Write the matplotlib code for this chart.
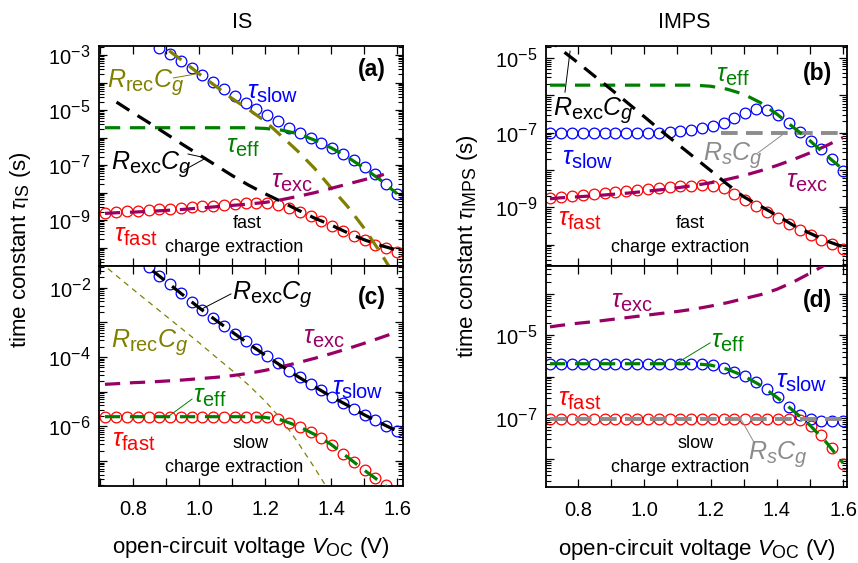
import matplotlib
matplotlib.use("Agg")
import matplotlib.pyplot as plt
import matplotlib._mathtext as mathtext_internals
from matplotlib.ticker import FixedLocator, FuncFormatter, LogLocator, NullFormatter
import numpy as np

plt.rcParams['font.family'] = ['Liberation Sans', 'DejaVu Sans']
plt.rcParams['mathtext.fontset'] = 'custom'
plt.rcParams['mathtext.rm'] = 'Liberation Sans'
plt.rcParams['mathtext.it'] = 'Liberation Sans:italic'
plt.rcParams['mathtext.bf'] = 'Liberation Sans:bold'
plt.rcParams['lines.scale_dashes'] = False
# the original uses larger sub/superscripts than matplotlib's default 0.7
mathtext_internals.SHRINK_FACTOR = 0.8

nan = np.nan

# --- DATA ---
# open-circuit voltage of the simulated points (V)
voc = [0.716, 0.749, 0.781, 0.814, 0.847, 0.880, 0.912, 0.945, 0.978, 1.010,
       1.043, 1.076, 1.109, 1.141, 1.174, 1.207, 1.240, 1.272, 1.305, 1.338,
       1.371, 1.403, 1.436, 1.469, 1.502, 1.534, 1.567, 1.600]
# voltage grid of the model curves (V)
v_model = [0.715, 0.75, 0.80, 0.85, 0.90, 0.95, 1.00, 1.05, 1.10, 1.15,
           1.20, 1.25, 1.30, 1.35, 1.40, 1.45, 1.50, 1.55, 1.60]
v_full = [0.70, 0.75, 0.80, 0.85, 0.90, 0.95, 1.00, 1.05, 1.10, 1.15,
          1.20, 1.25, 1.30, 1.35, 1.40, 1.45, 1.50, 1.55, 1.60]

# (a) IS, fast charge extraction
a_fast = [1.85e-9, 1.95e-9, 2.07e-9, 2.18e-9, 2.31e-9, 2.44e-9, 2.58e-9, 2.73e-9, 2.89e-9, 3.14e-9,
          3.32e-9, 3.61e-9, 3.82e-9, 4.04e-9, 4.15e-9, 4.04e-9, 3.51e-9, 2.73e-9, 2.01e-9, 1.40e-9,
          9.2e-10, 5.9e-10, 3.9e-10, 2.6e-10, 1.82e-10, 1.27e-10, 9.3e-11, 7.0e-11]
a_slow = [nan, nan, nan, nan, 3.51e-3, 1.80e-3, 1.06e-3, 6.05e-4, 3.46e-4, 1.93e-4,
          1.07e-4, 5.97e-5, 3.23e-5, 1.80e-5, 1.06e-5, 6.4e-6, 3.87e-6, 2.28e-6, 1.46e-6, 9.9e-7,
          6.5e-7, 4.15e-7, 2.58e-7, 1.52e-7, 8.7e-8, 4.58e-8, 2.09e-8, 9.1e-9]
a_eff = [2.28e-6, 2.28e-6, 2.28e-6, 2.28e-6, 2.28e-6, 2.28e-6, 2.28e-6, 2.28e-6, 2.28e-6, 2.28e-6,
         2.15e-6, 1.87e-6, 1.38e-6, 8.1e-7, 4.27e-7, 1.95e-7, 7.8e-8, 2.85e-8, 9.1e-9]
v_exc_a = [0.715, 0.75, 0.80, 0.85, 0.90, 0.95, 1.00, 1.05, 1.10, 1.15,
           1.20, 1.25, 1.30, 1.35, 1.40, 1.45, 1.50, 1.55, 1.56]
a_exc = [1.75e-9, 1.85e-9, 1.95e-9, 2.07e-9, 2.25e-9, 2.44e-9, 2.73e-9, 3.05e-9, 3.41e-9, 3.82e-9,
         4.39e-9, 5.5e-9, 7.3e-9, 9.9e-9, 1.42e-8, 2.04e-8, 2.93e-8, 4.2e-8, 4.58e-8]
a_rexc = [1.95e-5, 8.0e-6, 3.37e-6, 1.38e-6, 5.65e-7, 2.38e-7, 1.0e-7, 4.2e-8, 1.87e-8,
          9.1e-9, 4.65e-9, 2.31e-9, 1.18e-9, 6.6e-10, 3.46e-10, 1.93e-10, 1.20e-10, 8.1e-11]
a_rrec = [5.2e-3, 1.75e-3, 6.2e-4, 2.09e-4, 7.5e-5, 2.65e-5, 1.06e-5, 3.98e-6,
          1.13e-6, 3.14e-7, 7.6e-8, 1.50e-8, 3.14e-9, 5.1e-10, 6.5e-11, 6.9e-12]

# (c) IS, slow charge extraction
c_fast = [1.90e-6, 1.90e-6, 1.90e-6, 1.90e-6, 1.90e-6, 1.90e-6, 1.90e-6, 1.90e-6, 1.90e-6, 1.90e-6,
          1.90e-6, 1.90e-6, 1.90e-6, 1.90e-6, 1.90e-6, 1.82e-6, 1.59e-6, 1.28e-6, 9.8e-7, 7.0e-7,
          4.71e-7, 2.83e-7, 1.63e-7, 9.4e-8, 5.4e-8, 3.24e-8, 2.03e-8, 1.22e-8]
c_slow = [nan, nan, nan, nan, 3.82e-2, 2.17e-2, 1.25e-2, 6.87e-3, 3.95e-3, 2.27e-3,
          1.33e-3, 7.8e-4, 4.6e-4, 2.83e-4, 1.66e-4, 1.04e-4, 6.6e-5, 4.04e-5, 2.59e-5, 1.66e-5,
          1.09e-5, 7.2e-6, 4.82e-6, 3.24e-6, 2.17e-6, 1.49e-6, 1.04e-6, 7.3e-7]
c_eff = [1.90e-6, 1.90e-6, 1.90e-6, 1.90e-6, 1.90e-6, 1.90e-6, 1.90e-6, 1.90e-6, 1.90e-6, 1.90e-6,
         1.82e-6, 1.52e-6, 1.02e-6, 5.87e-7, 3.03e-7, 1.30e-7, 5.5e-8, 2.48e-8, 1.09e-8]
c_exc = [1.63e-5, 1.70e-5, 1.82e-5, 1.90e-5, 2.03e-5, 2.17e-5, 2.37e-5, 2.59e-5, 2.90e-5, 3.38e-5,
         4.12e-5, 5.26e-5, 6.87e-5, 9.16e-5, 1.25e-4, 1.74e-4, 2.48e-4, 3.61e-4, 5.26e-4]
c_rexc = [8.7e-2, 3.61e-2, 1.52e-2, 6.3e-3, 2.65e-3, 1.17e-3, 5.3e-4, 2.43e-4, 1.14e-4,
          5.5e-5, 2.71e-5, 1.39e-5, 7.3e-6, 4.04e-6, 2.17e-6, 1.25e-6, 7.3e-7]
c_rrec = [5.5e-2, 2.22e-2, 8.95e-3, 3.69e-3, 1.52e-3, 6.3e-4, 2.59e-4, 1.02e-4,
          4.12e-5, 1.56e-5, 5.4e-6, 1.59e-6, 3.38e-7, 6.4e-8, 1.09e-8]

# (b) IMPS, fast charge extraction
b_fast = [1.77e-9, 1.89e-9, 2.01e-9, 2.09e-9, 2.22e-9, 2.36e-9, 2.51e-9, 2.67e-9, 2.84e-9, 3.02e-9,
          3.21e-9, 3.42e-9, 3.63e-9, 3.79e-9, 3.86e-9, 3.79e-9, 3.28e-9, 2.31e-9, 1.60e-9, 1.09e-9,
          7.5e-10, 5.1e-10, 3.52e-10, 2.49e-10, 1.79e-10, 1.35e-10, 1.03e-10, 7.9e-11]
b_slow = [9.8e-8, 9.8e-8, 9.8e-8, 9.8e-8, 9.8e-8, 9.8e-8, 9.8e-8, 9.8e-8, 9.8e-8, 9.8e-8,
          1.0e-7, 1.02e-7, 1.09e-7, 1.18e-7, 1.33e-7, 1.54e-7, 1.85e-7, 2.46e-7, 3.28e-7, 4.28e-7,
          4.10e-7, 3.02e-7, 1.81e-7, 1.02e-7, 6.1e-8, 3.67e-8, 1.99e-8, 9.7e-9]
b_eff = [1.87e-6, 1.87e-6, 1.87e-6, 1.87e-6, 1.87e-6, 1.87e-6, 1.87e-6, 1.87e-6, 1.87e-6, 1.87e-6,
         1.75e-6, 1.46e-6, 1.07e-6, 6.4e-7, 3.15e-7, 1.39e-7, 6.1e-8, 2.44e-8, 1.03e-8]
b_exc = [1.70e-9, 1.81e-9, 1.92e-9, 2.05e-9, 2.22e-9, 2.41e-9, 2.67e-9, 2.96e-9, 3.34e-9, 3.86e-9,
         4.55e-9, 5.6e-9, 7.1e-9, 9.5e-9, 1.32e-8, 1.91e-8, 2.87e-8, 4.50e-8, 7.4e-8]
b_rexc = [3.71e-5, 1.63e-5, 7.4e-6, 3.24e-6, 1.43e-6, 6.2e-7, 2.67e-7, 1.13e-7, 4.99e-8, 2.20e-8,
          9.7e-9, 4.19e-9, 1.92e-9, 1.09e-9, 6.1e-10, 3.31e-10, 2.03e-10, 1.26e-10, 8.8e-11]
v_rs_b = [1.23, 1.61]
b_rs = [9.6e-8, 9.6e-8]

# (d) IMPS, slow charge extraction
d_fast = [9.1e-8, 9.1e-8, 9.1e-8, 9.1e-8, 9.1e-8, 9.1e-8, 9.1e-8, 9.1e-8, 9.1e-8, 9.1e-8,
          9.1e-8, 9.1e-8, 9.1e-8, 9.1e-8, 9.1e-8, 9.1e-8, 9.1e-8, 9.1e-8, 9.1e-8, 9.1e-8,
          9.1e-8, 9.1e-8, 9.1e-8, 8.77e-8, 6.3e-8, 3.78e-8, 1.89e-8, 7.7e-9]
d_slow = [2.04e-6, 2.04e-6, 2.04e-6, 2.04e-6, 2.04e-6, 2.04e-6, 2.04e-6, 2.04e-6, 2.04e-6, 2.04e-6,
          2.04e-6, 2.04e-6, 2.04e-6, 2.04e-6, 2.00e-6, 1.85e-6, 1.60e-6, 1.30e-6, 1.02e-6, 7.55e-7,
          5.1e-7, 3.13e-7, 1.85e-7, 1.16e-7, 9.1e-8, 8.45e-8, 8.45e-8, 8.45e-8]
d_eff = [2.04e-6, 2.04e-6, 2.04e-6, 2.04e-6, 2.04e-6, 2.04e-6, 2.04e-6, 2.04e-6, 2.04e-6, 2.04e-6,
         1.89e-6, 1.51e-6, 1.04e-6, 6.15e-7, 3.13e-7, 1.48e-7, 6.6e-8, 2.50e-8, 7.98e-9]
d_exc = [1.60e-5, 1.75e-5, 1.96e-5, 2.15e-5, 2.41e-5, 2.70e-5, 3.02e-5, 3.38e-5, 3.78e-5, 4.31e-5,
         5.1e-5, 6.15e-5, 7.7e-5, 9.6e-5, 1.30e-4, 1.96e-4, 3.19e-4, 5.3e-4, 9.3e-4]
v_rs_d = [0.715, 1.60]
d_rs = [9.1e-8, 9.1e-8]

# --- COLOURS ---
RED = '#ff0000'
BLUE = '#0000ff'
GREEN = '#008000'
PURPLE = '#990066'
OLIVE = '#808000'
GRAY = '#8c8c8c'

W, H = 858, 563
fig = plt.figure(figsize=(W / 100, H / 100), dpi=100)


def box(x0, y0, x1, y1):
    # pixel box (top-left origin) -> figure fraction
    return [x0 / W, 1 - y1 / H, (x1 - x0) / W, (y1 - y0) / H]


ax_a = fig.add_axes(box(99, 46, 403, 266))
ax_c = fig.add_axes(box(99, 266, 403, 486))
ax_b = fig.add_axes(box(546, 46, 847, 266))
ax_d = fig.add_axes(box(546, 266, 847, 487))


def style(ax, ylim, labelled, xlim, bottom):
    ax.set_yscale('log')
    ax.set_xlim(*xlim)
    ax.set_ylim(*ylim)
    ax.yaxis.set_major_locator(LogLocator(base=10, numticks=30))
    ax.yaxis.set_minor_locator(LogLocator(base=10, subs=np.arange(2, 10), numticks=30))
    ax.yaxis.set_minor_formatter(NullFormatter())
    ax.yaxis.set_major_formatter(FuncFormatter(
        lambda v, p: r'$10^{%d}$' % round(np.log10(v)) if round(np.log10(v)) in labelled else ''))
    ax.xaxis.set_major_locator(FixedLocator([0.7, 0.8, 0.9, 1.0, 1.1, 1.2, 1.3, 1.4, 1.5, 1.6]))
    if bottom:
        ax.xaxis.set_major_formatter(FuncFormatter(
            lambda v, p: '%.1f' % v if round(v * 10) % 2 == 0 else ''))
    else:
        ax.xaxis.set_major_formatter(FuncFormatter(lambda v, p: ''))
    ax.tick_params(which='both', direction='in', top=True, right=True, labelsize=14.5)
    ax.tick_params(which='major', length=6, width=0.9)
    ax.tick_params(which='minor', length=3.5, width=0.8)
    ax.tick_params(axis='x', pad=10)
    ax.tick_params(axis='y', pad=6)
    for s in ax.spines.values():
        s.set_linewidth(1.3)


style(ax_a, (10 ** -10.67, 10 ** -2.67), {-3, -5, -7, -9}, (0.697, 1.618), False)
style(ax_c, (10 ** -7.72, 10 ** -1.375), {-2, -4, -6}, (0.697, 1.618), True)
style(ax_b, (10 ** -10.57, 10 ** -4.68), {-5, -7, -9}, (0.703, 1.612), False)
style(ax_d, (10 ** -8.68, 10 ** -3.32), {-5, -7}, (0.703, 1.612), True)

mk = dict(linestyle='none', marker='o', markersize=7.7, mfc='none', mew=0.9, zorder=2)
thick = dict(lw=2.3, dashes=(11, 7), zorder=3)

# (a)
ax_a.plot(voc, a_fast, color=RED, **mk)
ax_a.plot(voc, a_slow, color=BLUE, **mk)
ax_a.plot(v_model[3:], a_rrec, color=OLIVE, **thick)
ax_a.plot(v_model, a_eff, color=GREEN, **thick)
ax_a.plot(v_full[1:], a_rexc, color='black', **thick)
ax_a.plot(v_exc_a, a_exc, color=PURPLE, **thick)

# (c)
ax_c.plot(voc, c_fast, color=RED, **mk)
ax_c.plot(voc, c_slow, color=BLUE, **mk)
ax_c.plot(v_full[:15], c_rrec, color=OLIVE, lw=0.9, dashes=(4, 3.5), zorder=3)
ax_c.plot(v_model, c_exc, color=PURPLE, **thick)
ax_c.plot(v_model, c_eff, color=GREEN, **thick)
ax_c.plot(v_full[2:], c_rexc, color='black', **thick)

# (b)
ax_b.plot(voc, b_fast, color=RED, **mk)
ax_b.plot(voc, b_slow, color=BLUE, **mk)
ax_b.plot(v_rs_b, b_rs, color=GRAY, lw=2.8, dashes=(12, 6), zorder=3)
ax_b.plot(v_model, b_exc, color=PURPLE, **thick)
ax_b.plot(v_model, b_eff, color=GREEN, **thick)
ax_b.plot(v_full, b_rexc, color='black', **thick)

# (d)
ax_d.plot(voc, d_fast, color=RED, **mk)
ax_d.plot(voc, d_slow, color=BLUE, **mk)
ax_d.plot(v_rs_d, d_rs, color=GRAY, lw=2.8, dashes=(12, 6), zorder=3)
ax_d.plot(v_model, d_exc, color=PURPLE, **thick)
ax_d.plot(v_model, d_eff, color=GREEN, **thick)

# --- annotations ---
BIG = 18
SMALL = 13
PANEL = 16.5


def label(ax, x, y, s, color, ha='center', size=BIG, **kw):
    ax.text(x, y, s, transform=ax.transAxes, color=color, ha=ha, va='center',
            fontsize=size, zorder=5, **kw)


def pointer(ax, xs, ys, color):
    ax.plot(xs, ys, transform=ax.transAxes, color=color, lw=0.7, zorder=5)


# (a)
label(ax_a, 0.944, 0.895, '(a)', 'black', ha='right', size=PANEL, fontweight='bold')
label(ax_a, 0.026, 0.832, r'$R_{\mathrm{rec}}C_g$', OLIVE, ha='left')
pointer(ax_a, [0.245, 0.319], [0.855, 0.873], OLIVE)
label(ax_a, 0.572, 0.786, r'$\tau_{\mathrm{slow}}$', BLUE)
label(ax_a, 0.474, 0.541, r'$\tau_{\mathrm{eff}}$', GREEN)
label(ax_a, 0.039, 0.459, r'$R_{\mathrm{exc}}C_g$', 'black', ha='left')
pointer(ax_a, [0.293, 0.352, 0.280], [0.509, 0.491, 0.436], 'black')
label(ax_a, 0.635, 0.382, r'$\tau_{\mathrm{exc}}$', PURPLE)
label(ax_a, 0.049, 0.136, r'$\tau_{\mathrm{fast}}$', RED, ha='left')
label(ax_a, 0.487, 0.195, 'fast', 'black', size=SMALL)
label(ax_a, 0.444, 0.086, 'charge extraction', 'black', size=SMALL)

# (c)
label(ax_c, 0.944, 0.855, '(c)', 'black', ha='right', size=PANEL, fontweight='bold')
label(ax_c, 0.4375, 0.868, r'$R_{\mathrm{exc}}C_g$', 'black', ha='left')
pointer(ax_c, [0.434, 0.339], [0.873, 0.805], 'black')
label(ax_c, 0.039, 0.650, r'$R_{\mathrm{rec}}C_g$', OLIVE, ha='left')
label(ax_c, 0.740, 0.673, r'$\tau_{\mathrm{exc}}$', PURPLE)
label(ax_c, 0.850, 0.440, r'$\tau_{\mathrm{slow}}$', BLUE)
label(ax_c, 0.365, 0.405, r'$\tau_{\mathrm{eff}}$', GREEN)
pointer(ax_c, [0.306, 0.230], [0.395, 0.318], GREEN)
label(ax_c, 0.043, 0.205, r'$\tau_{\mathrm{fast}}$', RED, ha='left')
label(ax_c, 0.500, 0.191, 'slow', 'black', size=SMALL)
label(ax_c, 0.444, 0.082, 'charge extraction', 'black', size=SMALL)

# (b)
label(ax_b, 0.950, 0.877, '(b)', 'black', ha='right', size=PANEL, fontweight='bold')
label(ax_b, 0.621, 0.864, r'$\tau_{\mathrm{eff}}$', GREEN)
label(ax_b, 0.023, 0.705, r'$R_{\mathrm{exc}}C_g$', 'black', ha='left')
pointer(ax_b, [0.063, 0.080], [0.790, 0.977], 'black')
label(ax_b, 0.053, 0.486, r'$\tau_{\mathrm{slow}}$', BLUE, ha='left')
label(ax_b, 0.522, 0.500, r'$R_sC_g$', GRAY, ha='left')
pointer(ax_b, [0.704, 0.784], [0.514, 0.595], GRAY)
label(ax_b, 0.867, 0.382, r'$\tau_{\mathrm{exc}}$', PURPLE)
label(ax_b, 0.040, 0.209, r'$\tau_{\mathrm{fast}}$', RED, ha='left')
label(ax_b, 0.478, 0.195, 'fast', 'black', size=SMALL)
label(ax_b, 0.445, 0.086, 'charge extraction', 'black', size=SMALL)

# (d)
label(ax_d, 0.950, 0.846, '(d)', 'black', ha='right', size=PANEL, fontweight='bold')
label(ax_d, 0.286, 0.837, r'$\tau_{\mathrm{exc}}$', PURPLE)
label(ax_d, 0.605, 0.656, r'$\tau_{\mathrm{eff}}$', GREEN)
pointer(ax_d, [0.545, 0.435], [0.652, 0.561], GREEN)
label(ax_d, 0.850, 0.475, r'$\tau_{\mathrm{slow}}$', BLUE)
label(ax_d, 0.040, 0.394, r'$\tau_{\mathrm{fast}}$', RED, ha='left')
label(ax_d, 0.498, 0.195, 'slow', 'black', size=SMALL)
label(ax_d, 0.445, 0.086, 'charge extraction', 'black', size=SMALL)
label(ax_d, 0.671, 0.145, r'$R_sC_g$', GRAY, ha='left')
pointer(ax_d, [0.694, 0.651], [0.195, 0.299], GRAY)

# --- titles and axis labels ---
fig.text(242 / W, 1 - 22 / H, 'IS', ha='center', va='center', fontsize=15.5)
fig.text(684 / W, 1 - 22 / H, 'IMPS', ha='center', va='center', fontsize=15.5)
fig.text(21 / W, 1 - 250 / H, r'time constant $\tau_{\mathrm{IS}}$ (s)', rotation=90,
         ha='center', va='center', fontsize=16)
fig.text(468 / W, 1 - 246 / H, r'time constant $\tau_{\mathrm{IMPS}}$ (s)', rotation=90,
         ha='center', va='center', fontsize=16)
for ax in (ax_c, ax_d):
    ax.set_xlabel(r'open-circuit voltage $V_{\mathrm{OC}}$ (V)', fontsize=16)
    ax.xaxis.set_label_coords(0.5, -0.225)

fig.savefig('out.png', dpi=100)
